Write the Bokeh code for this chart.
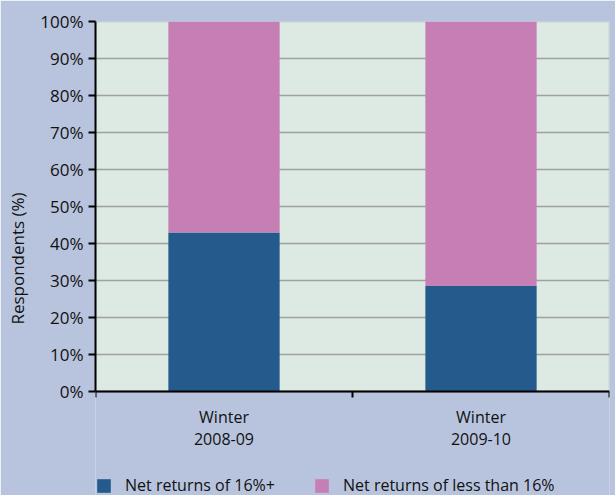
from bokeh.plotting import figure
from bokeh.models import (BoxAnnotation, ColumnDataSource, FixedTicker, Legend,
                          LegendItem, Range1d)
from bokeh.embed import file_html
from bokeh.resources import INLINE

# Survey shares by winter season
seasons = ["Winter\n2008-09", "Winter\n2009-10"]
high_returns = [43.0, 28.5]          # Net returns of 16%+
low_returns = [57.0, 71.5]           # Net returns of less than 16%
series_names = ["Net returns of 16%+", "Net returns of less than 16%"]
y_ticks = [0, 10, 20, 30, 40, 50, 60, 70, 80, 90, 100]

BLUE = "#245a8c"
PINK = "#c67fb4"
OUTER = "#b8c4dd"
PANEL = "#dceae3"
FONT = "Open Sans"
TXT = "#111111"
colors = [BLUE, PINK]

xpos = [i + 0.5 for i in range(len(seasons))]
src = ColumnDataSource(dict(x=xpos, high=high_returns, low=low_returns))

# the frame runs to the foot of the canvas so the key row can sit inside it;
# the value axis keeps 3.7 px per percentage point
y_floor = -(474 - 370) / 3.7
p = figure(width=615, height=495, output_backend="svg", toolbar_location=None,
           x_range=Range1d(0, len(seasons)), y_range=Range1d(y_floor, 100),
           min_border_left=95, min_border_right=6, min_border_top=21,
           min_border_bottom=0)
p.background_fill_color = OUTER
p.border_fill_color = OUTER
p.outline_line_color = None

# plotting area between 0 and 100 %
p.add_layout(BoxAnnotation(bottom=0, top=100, fill_color=PANEL, fill_alpha=1,
                           line_color="#9a9a9a", line_width=2, level="image"))

stack = p.vbar_stack(["high", "low"], x="x", width=0.433, source=src,
                     color=colors, line_width=0)

# y axis
p.yaxis.ticker = FixedTicker(ticks=y_ticks)
p.yaxis.bounds = (0, 100)
p.yaxis.major_label_overrides = {t: f"{t}%" for t in y_ticks}
p.yaxis.axis_line_color = "black"
p.yaxis.axis_line_width = 2
p.yaxis.major_tick_in = 0
p.yaxis.major_tick_out = 7
p.yaxis.major_tick_line_width = 2
p.yaxis.minor_tick_line_color = None
p.yaxis.major_label_standoff = 5
p.yaxis.major_label_text_font = FONT
p.yaxis.major_label_text_font_size = "17px"
p.yaxis.major_label_text_color = TXT
p.yaxis.axis_label = "Respondents (%)"
p.yaxis.axis_label_text_font = FONT
p.yaxis.axis_label_text_font_size = "17px"
p.yaxis.axis_label_text_font_style = "normal"
p.yaxis.axis_label_text_color = TXT
p.yaxis.axis_label_standoff = 8

# x axis sits on the 0 % line: labels at bar centres, ticks at category boundaries
p.xaxis.fixed_location = 0
p.xaxis.ticker = FixedTicker(ticks=xpos, minor_ticks=list(range(len(seasons) + 1)))
p.xaxis.major_label_overrides = {x: s for x, s in zip(xpos, seasons)}
p.xaxis.axis_line_color = "black"
p.xaxis.axis_line_width = 2
p.xaxis.major_tick_line_color = None
p.xaxis.minor_tick_in = 0
p.xaxis.minor_tick_out = 6
p.xaxis.minor_tick_line_color = "black"
p.xaxis.minor_tick_line_width = 2
p.xaxis.major_label_standoff = 8
p.xaxis.major_label_text_font = FONT
p.xaxis.major_label_text_font_size = "16px"
p.xaxis.major_label_text_line_height = 1.0
p.xaxis.major_label_text_color = TXT

p.xgrid.grid_line_color = None
p.ygrid.grid_line_color = "#a0a0a0"
p.ygrid.grid_line_width = 1.5

# key row along the bottom edge
legend = Legend(items=[LegendItem(label=n, renderers=[r])
                       for n, r in zip(series_names, stack)],
                location=(0, -1), orientation="horizontal",
                glyph_width=17, glyph_height=17, label_standoff=13,
                label_width=188, padding=0, margin=0, spacing=0,
                border_line_alpha=0, background_fill_alpha=0,
                label_text_font=FONT, label_text_font_size="16px",
                label_text_color=TXT)
p.add_layout(legend, "center")

open("out.html", "w").write(file_html(p, INLINE))
